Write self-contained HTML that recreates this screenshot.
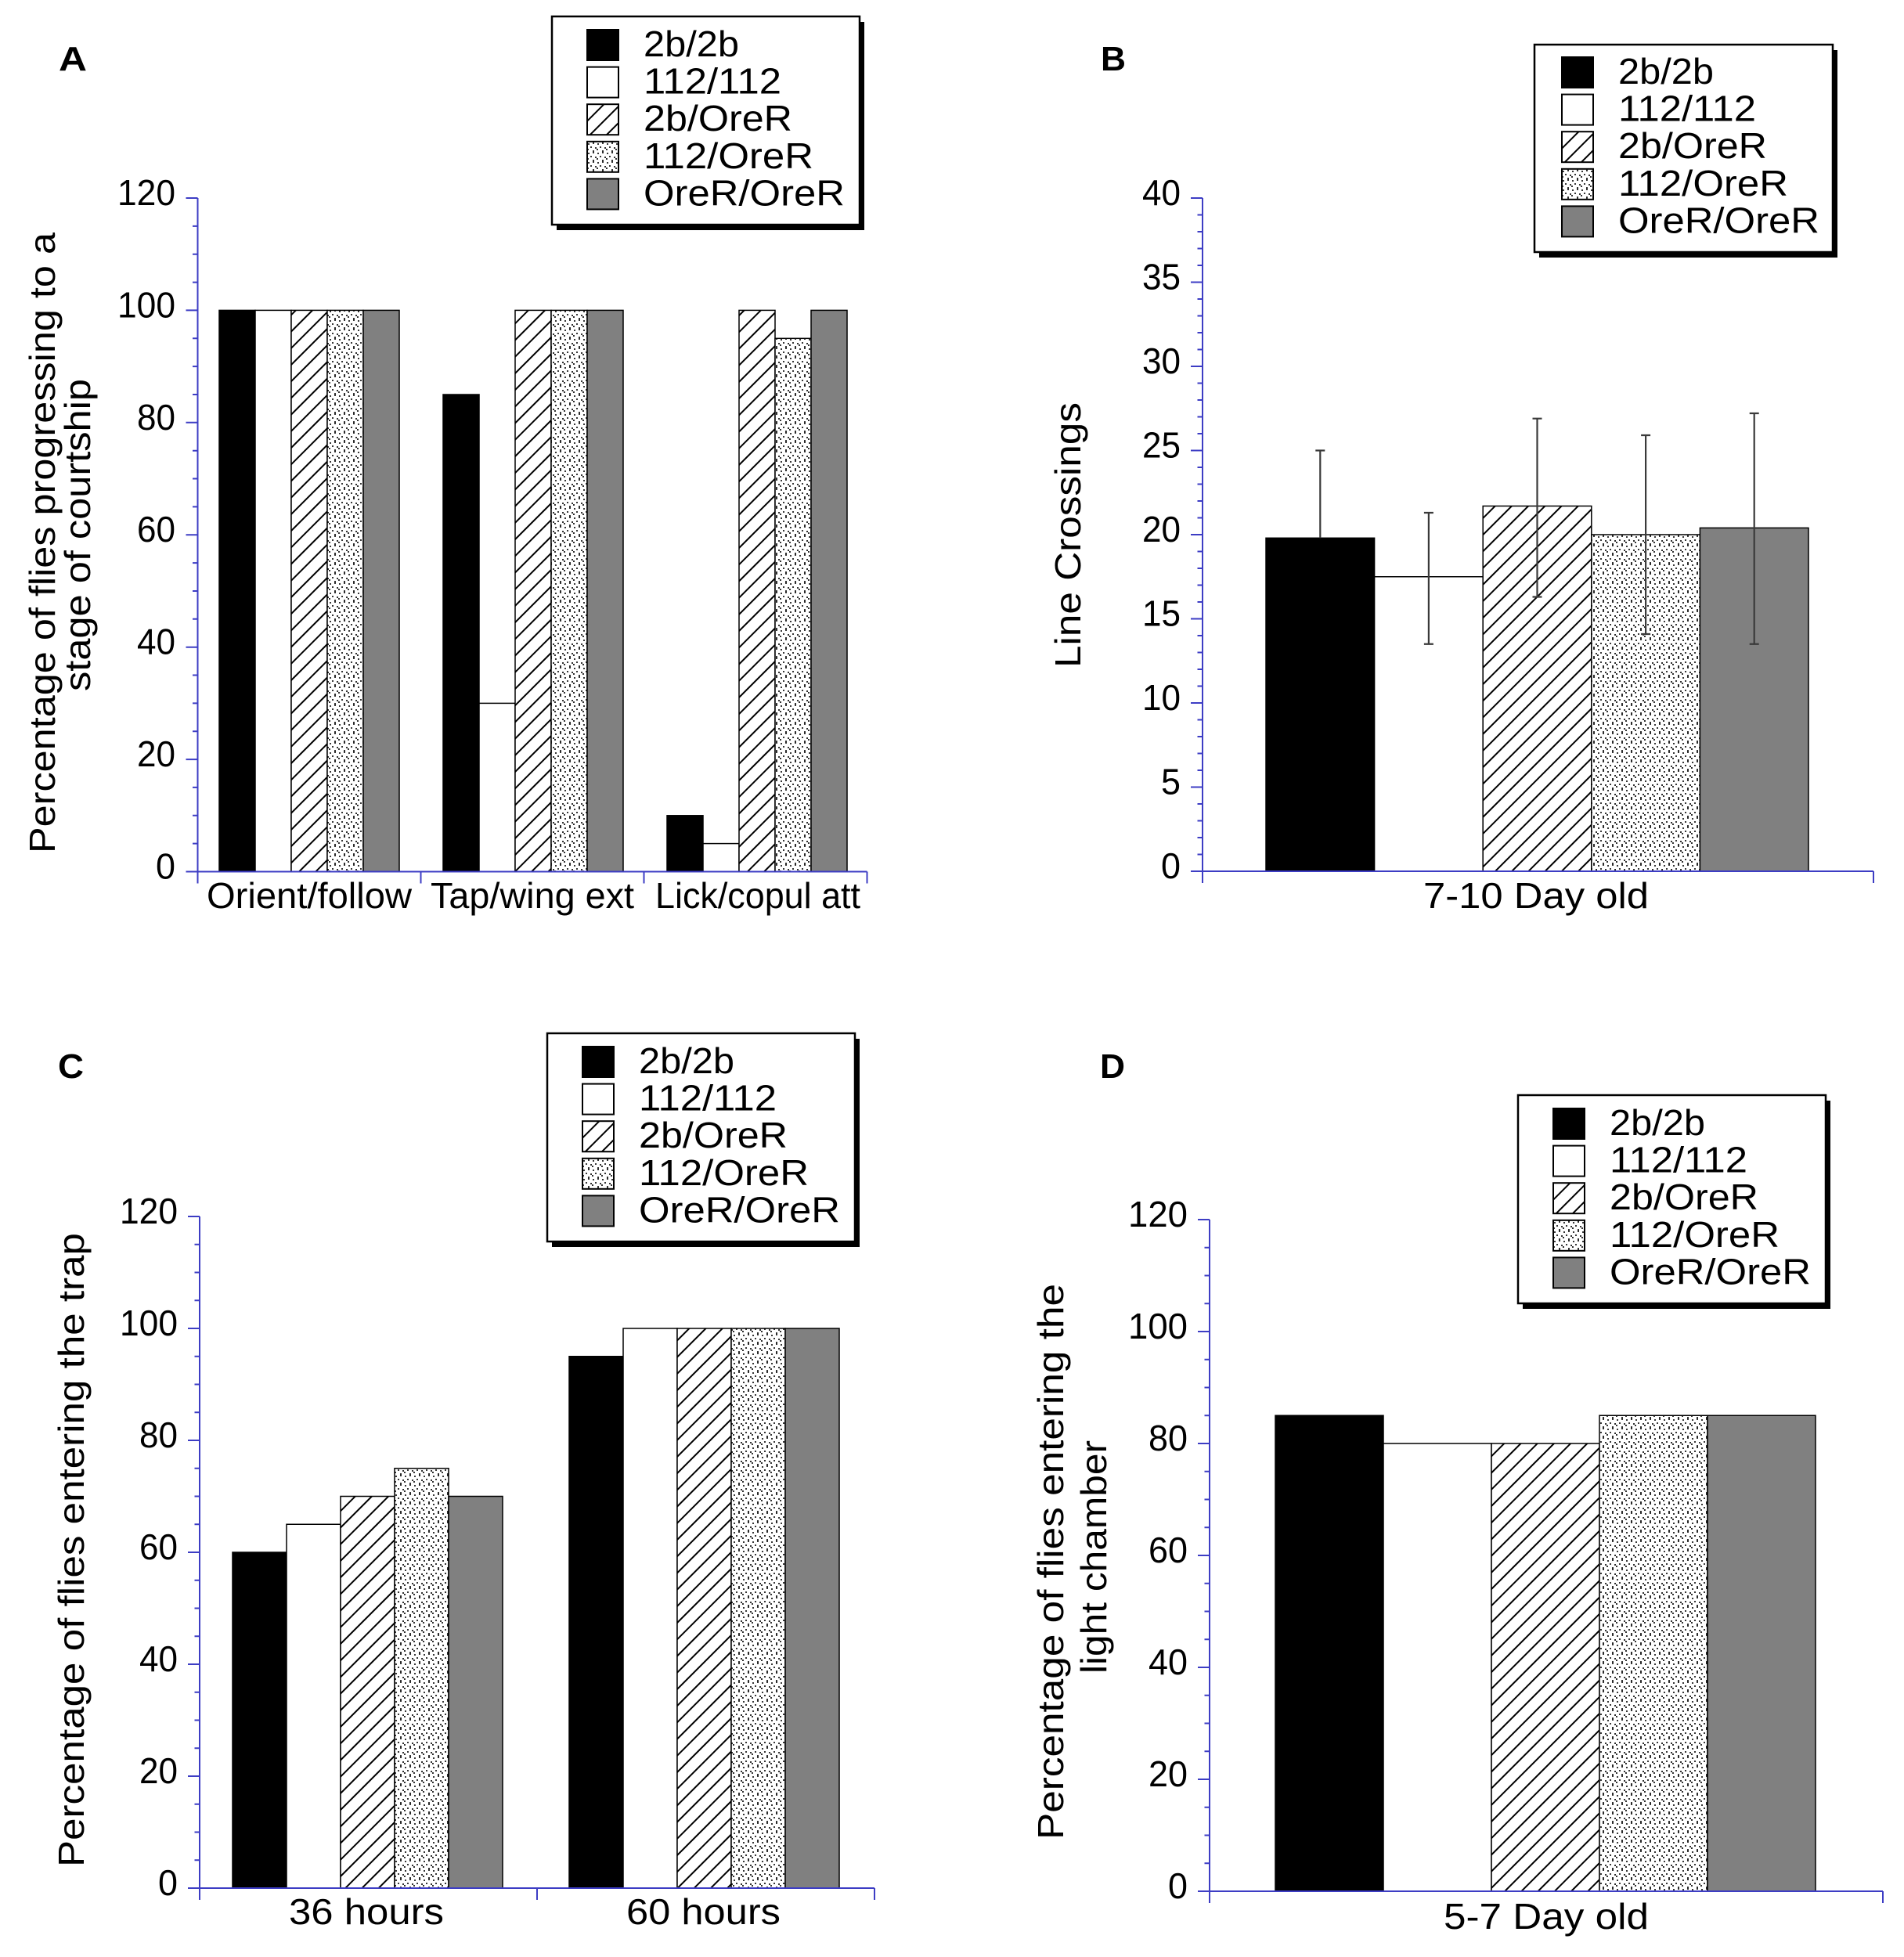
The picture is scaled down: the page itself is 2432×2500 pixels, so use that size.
<!DOCTYPE html>
<html><head><meta charset="utf-8"><style>html,body{margin:0;padding:0;background:#fff}svg{display:block}</style></head>
<body>
<svg width="2432" height="2500" viewBox="0 0 2432 2500" xmlns="http://www.w3.org/2000/svg" font-family="'Liberation Sans', Arial, Helvetica, sans-serif">
<defs>
<pattern id="h" patternUnits="userSpaceOnUse" width="15" height="15" patternTransform="rotate(45)"><rect width="15" height="15" fill="#fff"/><line x1="7.5" y1="0" x2="7.5" y2="15" stroke="#000" stroke-width="2"/></pattern>
<pattern id="d" patternUnits="userSpaceOnUse" width="12" height="12"><rect width="12" height="12" fill="#fff"/><circle cx="2" cy="2" r="1.05" fill="#000"/><circle cx="8" cy="1" r="1.05" fill="#000"/><circle cx="5" cy="6" r="1.05" fill="#000"/><circle cx="11" cy="7" r="1.05" fill="#000"/><circle cx="1" cy="9" r="1.05" fill="#000"/><circle cx="8" cy="11" r="1.05" fill="#000"/></pattern>
<g id="legc">
<rect x="0" y="0" width="40" height="39" fill="#000" stroke="#000" stroke-width="2"/>
<rect x="0" y="47.6" width="40" height="39" fill="#fff" stroke="#000" stroke-width="2"/>
<rect x="0" y="95.2" width="40" height="39" fill="url(#h)" stroke="#000" stroke-width="2"/>
<rect x="0" y="142.8" width="40" height="39" fill="url(#d)" stroke="#000" stroke-width="2"/>
<rect x="0" y="190.4" width="40" height="39" fill="#808080" stroke="#000" stroke-width="2"/>
<g font-size="46" fill="#000">
<text x="72" y="34" textLength="122" lengthAdjust="spacingAndGlyphs">2b/2b</text>
<text x="72" y="81.6" textLength="176" lengthAdjust="spacingAndGlyphs">112/112</text>
<text x="72" y="129.2" textLength="190" lengthAdjust="spacingAndGlyphs">2b/OreR</text>
<text x="72" y="176.8" textLength="217" lengthAdjust="spacingAndGlyphs">112/OreR</text>
<text x="72" y="224.4" textLength="257" lengthAdjust="spacingAndGlyphs">OreR/OreR</text>
</g>
</g>
</defs>
<rect width="2432" height="2500" fill="#fff"/>

<!-- ================= PANEL A ================= -->
<text x="75" y="90" font-size="44" font-weight="bold" textLength="36" lengthAdjust="spacingAndGlyphs">A</text>
<g stroke="#000" stroke-width="1.5">
<rect x="280" y="396.4" width="46" height="717.1" fill="#000"/>
<rect x="326" y="396.4" width="46" height="717.1" fill="#fff"/>
<rect x="372" y="396.4" width="46" height="717.1" fill="url(#h)"/>
<rect x="418" y="396.4" width="46" height="717.1" fill="url(#d)"/>
<rect x="464" y="396.4" width="46" height="717.1" fill="#808080"/>

<rect x="566" y="504.0" width="46" height="609.5" fill="#000"/>
<rect x="612" y="898.4" width="46" height="215.1" fill="#fff"/>
<rect x="658" y="396.4" width="46" height="717.1" fill="url(#h)"/>
<rect x="704" y="396.4" width="46" height="717.1" fill="url(#d)"/>
<rect x="750" y="396.4" width="46" height="717.1" fill="#808080"/>

<rect x="852" y="1041.8" width="46" height="71.7" fill="#000"/>
<rect x="898" y="1077.6" width="46" height="35.9" fill="#fff"/>
<rect x="944" y="396.4" width="46" height="717.1" fill="url(#h)"/>
<rect x="990" y="432.3" width="46" height="681.2" fill="url(#d)"/>
<rect x="1036" y="396.4" width="46" height="717.1" fill="#808080"/>
</g>
<g stroke="#3d3dc4" stroke-width="2" fill="none">
<path d="M252.5 253V1128.5M252.5 1113.5H1107.5M537.5 1113.5V1128.5M822.5 1113.5V1128.5M1107.5 1113.5V1128.5"/>
<path d="M237.5 1113.5H252.5M237.5 970.1H252.5M237.5 826.7H252.5M237.5 683.2H252.5M237.5 539.8H252.5M237.5 396.4H252.5M237.5 253H252.5"/>
<path d="M246 1077.6H252.5M246 1041.8H252.5M246 1005.9H252.5M246 934.2H252.5M246 898.4H252.5M246 862.5H252.5M246 790.8H252.5M246 755H252.5M246 719.1H252.5M246 647.4H252.5M246 611.5H252.5M246 575.7H252.5M246 504H252.5M246 468.1H252.5M246 432.3H252.5M246 360.6H252.5M246 324.7H252.5M246 288.9H252.5"/>
</g>
<g font-size="46" text-anchor="end">
<text x="224" y="262" textLength="74" lengthAdjust="spacingAndGlyphs">120</text>
<text x="224" y="405.4" textLength="74" lengthAdjust="spacingAndGlyphs">100</text>
<text x="224" y="548.8" textLength="49" lengthAdjust="spacingAndGlyphs">80</text>
<text x="224" y="692.2" textLength="49" lengthAdjust="spacingAndGlyphs">60</text>
<text x="224" y="835.7" textLength="49" lengthAdjust="spacingAndGlyphs">40</text>
<text x="224" y="979.1" textLength="49" lengthAdjust="spacingAndGlyphs">20</text>
<text x="224" y="1122.5" textLength="25" lengthAdjust="spacingAndGlyphs">0</text>
</g>
<g font-size="46">
<text transform="translate(70,1090) rotate(-90)" textLength="793" lengthAdjust="spacingAndGlyphs">Percentage of flies progressing to a</text>
<text transform="translate(115,883) rotate(-90)" textLength="399" lengthAdjust="spacingAndGlyphs">stage of courtship</text>
<text x="264" y="1160" textLength="262" lengthAdjust="spacingAndGlyphs">Orient/follow</text>
<text x="550" y="1160" textLength="260" lengthAdjust="spacingAndGlyphs">Tap/wing ext</text>
<text x="837" y="1160" textLength="262" lengthAdjust="spacingAndGlyphs">Lick/copul att</text>
</g>
<rect x="711" y="28" width="393" height="266" fill="#000"/>
<rect x="705" y="21" width="393" height="266" fill="#fff" stroke="#000" stroke-width="2.5"/>
<use href="#legc" transform="translate(750,38)"/>

<!-- ================= PANEL B ================= -->
<text x="1406" y="90" font-size="44" font-weight="bold" textLength="32" lengthAdjust="spacingAndGlyphs">B</text>
<g stroke="#000" stroke-width="1.5">
<rect x="1617" y="687.3" width="138.6" height="425.7" fill="#000"/>
<rect x="1755.6" y="736.75" width="138.6" height="376.25" fill="#fff"/>
<rect x="1894.2" y="646.45" width="138.6" height="466.55" fill="url(#h)"/>
<rect x="2032.8" y="683" width="138.6" height="430" fill="url(#d)"/>
<rect x="2171.4" y="674.4" width="138.6" height="438.6" fill="#808080"/>
</g>
<g stroke="#3a3a3a" stroke-width="2.2" fill="none">
<path d="M1686.3 687.3V575.5M1680.3 575.5H1692.3"/>
<path d="M1824.9 822.75V655M1818.9 655H1830.9M1818.9 822.75H1830.9"/>
<path d="M1963.5 762.5V534.7M1957.5 534.7H1969.5M1957.5 762.5H1969.5"/>
<path d="M2102.1 810V556M2096.1 556H2108.1M2096.1 810H2108.1"/>
<path d="M2240.7 822.75V528M2234.7 528H2246.7M2234.7 822.75H2246.7"/>
</g>
<g stroke="#3d3dc4" stroke-width="2" fill="none">
<path d="M1536 253V1128M1536 1113H2393M2393 1113V1128"/>
<path d="M1521 1113H1536M1521 1005.5H1536M1521 898H1536M1521 790.5H1536M1521 683H1536M1521 575.5H1536M1521 468H1536M1521 360.5H1536M1521 253H1536"/>
<path d="M1529.5 1091.5H1536M1529.5 1070H1536M1529.5 1048.5H1536M1529.5 1027H1536M1529.5 984H1536M1529.5 962.5H1536M1529.5 941H1536M1529.5 919.5H1536M1529.5 876.5H1536M1529.5 855H1536M1529.5 833.5H1536M1529.5 812H1536M1529.5 769H1536M1529.5 747.5H1536M1529.5 726H1536M1529.5 704.5H1536M1529.5 661.5H1536M1529.5 640H1536M1529.5 618.5H1536M1529.5 597H1536M1529.5 554H1536M1529.5 532.5H1536M1529.5 511H1536M1529.5 489.5H1536M1529.5 446.5H1536M1529.5 425H1536M1529.5 403.5H1536M1529.5 382H1536M1529.5 339H1536M1529.5 317.5H1536M1529.5 296H1536M1529.5 274.5H1536"/>
</g>
<g font-size="46" text-anchor="end">
<text x="1508" y="1122" textLength="25" lengthAdjust="spacingAndGlyphs">0</text>
<text x="1508" y="1014.5" textLength="25" lengthAdjust="spacingAndGlyphs">5</text>
<text x="1508" y="907" textLength="49" lengthAdjust="spacingAndGlyphs">10</text>
<text x="1508" y="799.5" textLength="49" lengthAdjust="spacingAndGlyphs">15</text>
<text x="1508" y="692" textLength="49" lengthAdjust="spacingAndGlyphs">20</text>
<text x="1508" y="584.5" textLength="49" lengthAdjust="spacingAndGlyphs">25</text>
<text x="1508" y="477" textLength="49" lengthAdjust="spacingAndGlyphs">30</text>
<text x="1508" y="369.5" textLength="49" lengthAdjust="spacingAndGlyphs">35</text>
<text x="1508" y="262" textLength="49" lengthAdjust="spacingAndGlyphs">40</text>
</g>
<g font-size="46">
<text transform="translate(1380,853) rotate(-90)" textLength="339" lengthAdjust="spacingAndGlyphs">Line Crossings</text>
<text x="1818" y="1160" textLength="288" lengthAdjust="spacingAndGlyphs">7-10 Day old</text>
</g>
<rect x="1966" y="64" width="381" height="265" fill="#000"/>
<rect x="1960" y="57" width="381" height="265" fill="#fff" stroke="#000" stroke-width="2.5"/>
<use href="#legc" transform="translate(1995,73)"/>

<!-- ================= PANEL C ================= -->
<text x="74" y="1377" font-size="44" font-weight="bold" textLength="33" lengthAdjust="spacingAndGlyphs">C</text>
<g stroke="#000" stroke-width="1.5">
<rect x="297" y="1983" width="69" height="429" fill="#000"/>
<rect x="366" y="1947.25" width="69" height="464.75" fill="#fff"/>
<rect x="435" y="1911.5" width="69" height="500.5" fill="url(#h)"/>
<rect x="504" y="1875.75" width="69" height="536.25" fill="url(#d)"/>
<rect x="573" y="1911.5" width="69" height="500.5" fill="#808080"/>

<rect x="727" y="1732.75" width="69" height="679.25" fill="#000"/>
<rect x="796" y="1697" width="69" height="715" fill="#fff"/>
<rect x="865" y="1697" width="69" height="715" fill="url(#h)"/>
<rect x="934" y="1697" width="69" height="715" fill="url(#d)"/>
<rect x="1003" y="1697" width="69" height="715" fill="#808080"/>
</g>
<g stroke="#3d3dc4" stroke-width="2" fill="none">
<path d="M255 1554V2427M255 2412H1117M686 2412V2427M1117 2412V2427"/>
<path d="M240 2412H255M240 2269H255M240 2126H255M240 1983H255M240 1840H255M240 1697H255M240 1554H255"/>
<path d="M248.5 2376.25H255M248.5 2340.5H255M248.5 2304.75H255M248.5 2233.25H255M248.5 2197.5H255M248.5 2161.75H255M248.5 2090.25H255M248.5 2054.5H255M248.5 2018.75H255M248.5 1947.25H255M248.5 1911.5H255M248.5 1875.75H255M248.5 1804.25H255M248.5 1768.5H255M248.5 1732.75H255M248.5 1661.25H255M248.5 1625.5H255M248.5 1589.75H255"/>
</g>
<g font-size="46" text-anchor="end">
<text x="227" y="1563" textLength="74" lengthAdjust="spacingAndGlyphs">120</text>
<text x="227" y="1706" textLength="74" lengthAdjust="spacingAndGlyphs">100</text>
<text x="227" y="1849" textLength="49" lengthAdjust="spacingAndGlyphs">80</text>
<text x="227" y="1992" textLength="49" lengthAdjust="spacingAndGlyphs">60</text>
<text x="227" y="2135" textLength="49" lengthAdjust="spacingAndGlyphs">40</text>
<text x="227" y="2278" textLength="49" lengthAdjust="spacingAndGlyphs">20</text>
<text x="227" y="2421" textLength="25" lengthAdjust="spacingAndGlyphs">0</text>
</g>
<g font-size="46">
<text transform="translate(107,2385) rotate(-90)" textLength="810" lengthAdjust="spacingAndGlyphs">Percentage of flies entering the trap</text>
<text x="369" y="2458" textLength="198" lengthAdjust="spacingAndGlyphs">36 hours</text>
<text x="800" y="2458" textLength="197" lengthAdjust="spacingAndGlyphs">60 hours</text>
</g>
<rect x="705" y="1327" width="393" height="266" fill="#000"/>
<rect x="699" y="1320" width="393" height="266" fill="#fff" stroke="#000" stroke-width="2.5"/>
<use href="#legc" transform="translate(744,1337)"/>

<!-- ================= PANEL D ================= -->
<text x="1405" y="1377" font-size="44" font-weight="bold" textLength="32" lengthAdjust="spacingAndGlyphs">D</text>
<g stroke="#000" stroke-width="1.5">
<rect x="1629" y="1808.25" width="138" height="607.75" fill="#000"/>
<rect x="1767" y="1844" width="138" height="572" fill="#fff"/>
<rect x="1905" y="1844" width="138" height="572" fill="url(#h)"/>
<rect x="2043" y="1808.25" width="138" height="607.75" fill="url(#d)"/>
<rect x="2181" y="1808.25" width="138" height="607.75" fill="#808080"/>
</g>
<g stroke="#3d3dc4" stroke-width="2" fill="none">
<path d="M1545 1558V2431M1545 2416H2405M2405 2416V2431"/>
<path d="M1530 2416H1545M1530 2273H1545M1530 2130H1545M1530 1987H1545M1530 1844H1545M1530 1701H1545M1530 1558H1545"/>
<path d="M1538.5 2380.25H1545M1538.5 2344.5H1545M1538.5 2308.75H1545M1538.5 2237.25H1545M1538.5 2201.5H1545M1538.5 2165.75H1545M1538.5 2094.25H1545M1538.5 2058.5H1545M1538.5 2022.75H1545M1538.5 1951.25H1545M1538.5 1915.5H1545M1538.5 1879.75H1545M1538.5 1808.25H1545M1538.5 1772.5H1545M1538.5 1736.75H1545M1538.5 1665.25H1545M1538.5 1629.5H1545M1538.5 1593.75H1545"/>
</g>
<g font-size="46" text-anchor="end">
<text x="1517" y="1567" textLength="76" lengthAdjust="spacingAndGlyphs">120</text>
<text x="1517" y="1710" textLength="76" lengthAdjust="spacingAndGlyphs">100</text>
<text x="1517" y="1853" textLength="50" lengthAdjust="spacingAndGlyphs">80</text>
<text x="1517" y="1996" textLength="50" lengthAdjust="spacingAndGlyphs">60</text>
<text x="1517" y="2139" textLength="50" lengthAdjust="spacingAndGlyphs">40</text>
<text x="1517" y="2282" textLength="50" lengthAdjust="spacingAndGlyphs">20</text>
<text x="1517" y="2425" textLength="25" lengthAdjust="spacingAndGlyphs">0</text>
</g>
<g font-size="46">
<text transform="translate(1358,2350) rotate(-90)" textLength="710" lengthAdjust="spacingAndGlyphs">Percentage of flies entering the</text>
<text transform="translate(1413,2138) rotate(-90)" textLength="298" lengthAdjust="spacingAndGlyphs">light chamber</text>
<text x="1844" y="2464" textLength="262" lengthAdjust="spacingAndGlyphs">5-7 Day old</text>
</g>
<rect x="1945" y="1406" width="393" height="266" fill="#000"/>
<rect x="1939" y="1399" width="393" height="266" fill="#fff" stroke="#000" stroke-width="2.5"/>
<use href="#legc" transform="translate(1984,1416)"/>
</svg>
</body></html>
